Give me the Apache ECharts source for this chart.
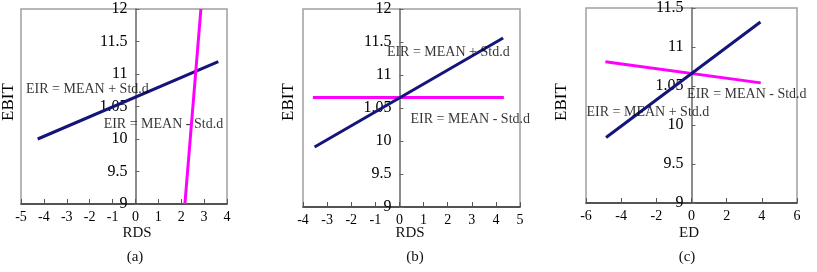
<!DOCTYPE html>
<html><head><meta charset="utf-8">
<script src="https://cdn.jsdelivr.net/npm/echarts@6/dist/echarts.min.js"></script>
<style>html,body{margin:0;padding:0;background:#fff}#c{width:817px;height:272px}</style>
</head><body><div id="c"></div>
<script>
// ---- Panel (a): EBIT vs RDS ----
const xA_blue = [-4.27, 3.62];
const yA_blue = [10.0, 11.19];
const xA_mag = [2.16, 2.86];
const yA_mag = [9.0, 12.0];
// ---- Panel (b): EBIT vs RDS ----
const xB_blue = [-3.52, 4.3];
const yB_blue = [9.91, 11.56];
const xB_mag = [-3.59, 4.33];
const yB_mag = [10.66, 10.66];
// ---- Panel (c): EBIT vs ED ----
const xC_blue = [-4.86, 3.92];
const yC_blue = [9.84, 11.32];
const xC_mag = [-4.9, 3.94];
const yC_mag = [10.81, 10.54];

// tick labels (the original shows "1.05" at the 10.5 tick)
const yTickValues = [9, 9.5, 10, 10.5, 11, 11.5, 12];
const yTickTexts = ['9', '9.5', '10', '1.05', '11', '11.5', '12'];

// annotation texts and their data-space anchors (left-middle of text)
const annotTexts = ['EIR = MEAN + Std.d', 'EIR = MEAN - Std.d'];
const annotA = [[-4.78, 10.77], [-1.39, 10.22]];
const annotB = [[-0.52, 11.34], [0.46, 10.33]];
const annotC = [[-5.97, 10.16], [-0.25, 10.39]];

const panelLetters = ['(a)', '(b)', '(c)'];
const xNames = ['RDS', 'RDS', 'ED'];
const yName = 'EBIT';

const FONT = "'Liberation Serif','Times New Roman',serif";
const BLUE = '#14147a';
const MAG = '#ff00ff';

function pairs(xs, ys) { return xs.map((x, i) => [x, ys[i]]); }
function yFmt(v) {
  const i = yTickValues.findIndex(t => Math.abs(t - v) < 1e-9);
  return i >= 0 ? yTickTexts[i] : '';
}

const grids = [
  {left: 21, top: 9, width: 206, height: 195},
  {left: 303, top: 9, width: 217, height: 198},
  {left: 586, top: 8, width: 211, height: 195}
];
const xRanges = [[-5, 4, 1], [-4, 5, 1], [-6, 6, 2]];
const yRanges = [[9, 12], [9, 12], [9, 11.5]];

const xAxes = [], yAxes = [];
grids.forEach((g, i) => {
  g.show = true; g.borderColor = '#a0a0a0'; g.borderWidth = 1.5; g.containLabel = false;
  g.outerBoundsMode = 'none';
  xAxes.push({
    type: 'value', gridIndex: i, min: xRanges[i][0], max: xRanges[i][1], interval: xRanges[i][2],
    axisLine: {onZero: false, lineStyle: {color: '#333', width: 1.5}},
    axisTick: {inside: true, length: 5, lineStyle: {color: '#555'}},
    axisLabel: {fontFamily: FONT, fontSize: 14, color: '#000', margin: 6},
    splitLine: {show: false}
  });
  yAxes.push({
    type: 'value', gridIndex: i, min: yRanges[i][0], max: yRanges[i][1], interval: 0.5,
    position: 'left', offset: 0,
    axisLine: {show: true, onZero: false, lineStyle: {color: '#666', width: 1.5}},
    axisTick: {show: true, inside: true, length: 4, lineStyle: {color: '#666'}},
    axisLabel: {fontFamily: FONT, fontSize: 16, color: '#000', margin: 8, formatter: yFmt},
    splitLine: {show: false}
  });
});

function lineSeries(i, xs, ys, color) {
  return {type: 'line', xAxisIndex: i, yAxisIndex: i, data: pairs(xs, ys), symbol: 'none',
    lineStyle: {color: color, width: 3}, silent: true, z: 3};
}
function annotSeries(i, anchors) {
  return {type: 'scatter', xAxisIndex: i, yAxisIndex: i, symbolSize: 0, z: 5, silent: true,
    data: anchors.map((p, k) => ({value: p, name: annotTexts[k]})),
    label: {show: true, position: 'right', distance: 0, formatter: p => p.name,
      fontFamily: FONT, fontSize: 14, color: '#000'}};
}

const series = [
  lineSeries(0, xA_blue, yA_blue, BLUE), lineSeries(0, xA_mag, yA_mag, MAG), annotSeries(0, annotA),
  lineSeries(1, xB_mag, yB_mag, MAG), lineSeries(1, xB_blue, yB_blue, BLUE), annotSeries(1, annotB),
  lineSeries(2, xC_mag, yC_mag, MAG), lineSeries(2, xC_blue, yC_blue, BLUE), annotSeries(2, annotC)
];

const yNamePos = [[9, 102], [289, 102], [562, 102]];
const xNamePos = [[137, 233], [410, 233], [689, 233]];
const letterPos = [[135, 257], [415, 257], [687, 257]];
const graphic = [];
for (let i = 0; i < 3; i++) {
  graphic.push({type: 'text', x: yNamePos[i][0], y: yNamePos[i][1], rotation: Math.PI / 2,
    style: {text: yName, font: '17px ' + FONT, fill: '#000', textAlign: 'center', textVerticalAlign: 'middle'}});
  graphic.push({type: 'text', x: xNamePos[i][0], y: xNamePos[i][1],
    style: {text: xNames[i], font: '15px ' + FONT, fill: '#111', textAlign: 'center', textVerticalAlign: 'middle'}});
  graphic.push({type: 'text', x: letterPos[i][0], y: letterPos[i][1],
    style: {text: panelLetters[i], font: '15px ' + FONT, fill: '#111', textAlign: 'center', textVerticalAlign: 'middle'}});
}

const chart = echarts.init(document.getElementById('c'), null, {renderer: 'canvas'});
chart.setOption({
  animation: false, backgroundColor: '#fff',
  grid: grids, xAxis: xAxes, yAxis: yAxes, series: series, graphic: graphic
});
// move each y axis (line, ticks, labels) onto x = 0, through the x scale
const newY = grids.map((g, i) => {
  const px0 = chart.convertToPixel({xAxisIndex: i}, 0);
  return {offset: -(px0 - g.left)};
});
chart.setOption({yAxis: newY});
</script></body></html>
